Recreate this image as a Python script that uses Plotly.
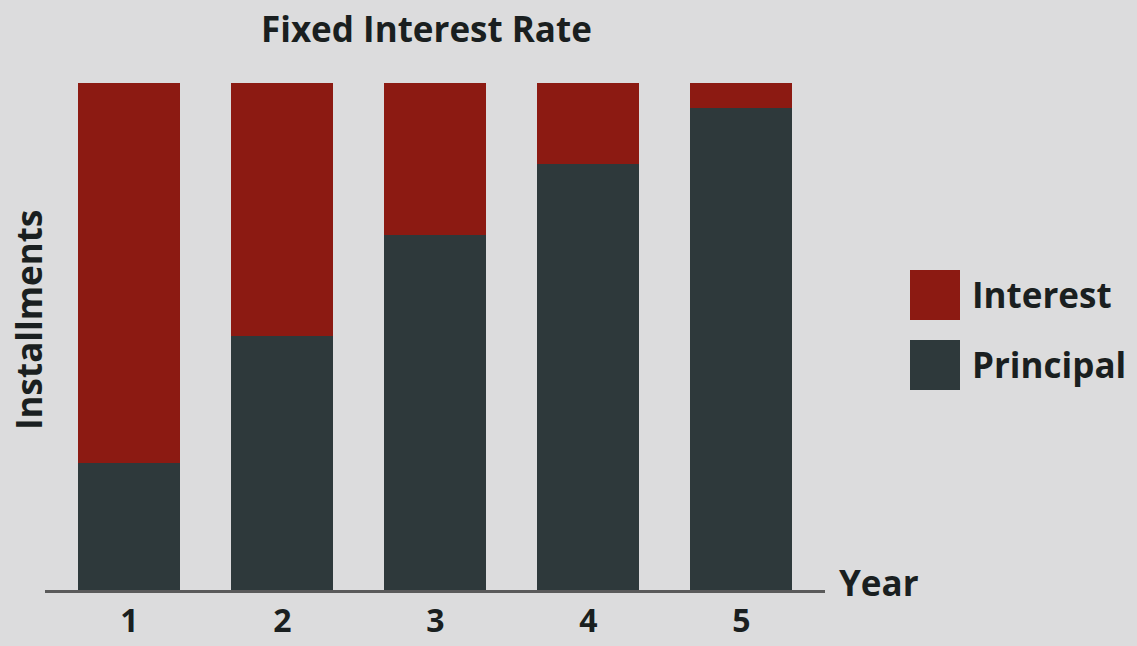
import plotly.graph_objects as go

years = ["1", "2", "3", "4", "5"]
year_pos = [1, 2, 3, 4, 5]
principal = [25, 50, 70, 84, 95]
interest = [75, 50, 30, 16, 5]

RED = "#8c1a12"
DARK = "#2e393b"
BG = "#dcdcdd"
FONT = "Open Sans"
FS = 35

fig = go.Figure()
fig.add_bar(x=year_pos, y=principal, name="Principal", marker_color=DARK,
            marker_line_width=0, width=0.667)
fig.add_bar(x=year_pos, y=interest, name="Interest", marker_color=RED,
            marker_line_width=0, width=0.667)

fig.update_layout(
    width=1137, height=646,
    barmode="stack",
    paper_bgcolor=BG, plot_bgcolor=BG,
    showlegend=False,
    margin=dict(l=45, r=312, t=60, b=56, autoexpand=False),
    font=dict(family=FONT, color="#1a1f20"),
    xaxis=dict(range=[0.448, 5.546], tickvals=year_pos, ticktext=years,
               showline=True, linecolor="#5a5a5a", linewidth=3,
               showgrid=False, zeroline=False, ticks="",
               ticklabelstandoff=1,
               tickfont=dict(family=FONT, size=32, weight="bold", color="#1a1f20")),
    yaxis=dict(range=[0, 104.5], visible=False),
)

# Title
fig.add_annotation(text="Fixed Interest Rate", xref="paper", yref="paper",
                   x=(426 - 45) / 780, y=1 + (60 - 28) / 530, showarrow=False,
                   xanchor="center", yanchor="middle",
                   font=dict(family=FONT, size=FS, weight="bold", color="#1a1f20"))
# Y title
fig.add_annotation(text="Installments", xref="paper", yref="paper",
                   x=(28 - 45) / 780, y=(590 - 320) / 530, showarrow=False,
                   textangle=-90, xanchor="center", yanchor="middle",
                   font=dict(family=FONT, size=FS, weight="bold", color="#1a1f20"))
# X title
fig.add_annotation(text="Year", xref="paper", yref="paper",
                   x=(879 - 45) / 780, y=(590 - 582) / 530, showarrow=False,
                   xanchor="center", yanchor="middle",
                   font=dict(family=FONT, size=FS, weight="bold", color="#1a1f20"))

# Legend (drawn manually with large swatches)
def px_x(p):
    return (p - 45) / 780

def px_y(p):
    return (590 - p) / 530

legend_items = [("Interest", RED, 270, 320, 294), ("Principal", DARK, 340, 390, 364)]
for label, color, y0, y1, yc in legend_items:
    fig.add_shape(type="rect", xref="paper", yref="paper",
                  x0=px_x(910), x1=px_x(960), y0=px_y(y1), y1=px_y(y0),
                  fillcolor=color, line_width=0)
    fig.add_annotation(text=label, xref="paper", yref="paper",
                       x=px_x(970), y=px_y(yc), showarrow=False,
                       xanchor="left", yanchor="middle",
                       font=dict(family=FONT, size=FS, weight="bold", color="#1a1f20"))

fig.write_html("out.html", config={"displayModeBar": False},
               post_script="document.body.style.margin='0';document.body.style.padding='0';document.body.style.overflow='hidden';")
